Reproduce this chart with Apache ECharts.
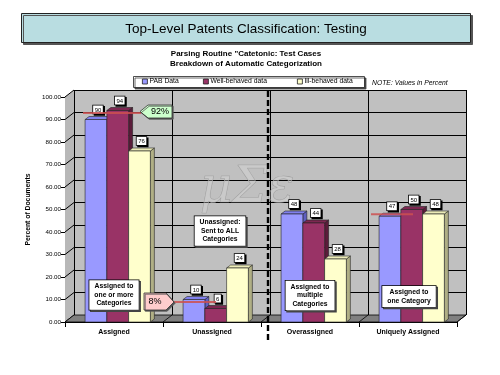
<!DOCTYPE html>
<html><head><meta charset="utf-8">
<script src="https://cdn.jsdelivr.net/npm/echarts@6/dist/echarts.min.js"></script>
<style>html,body{margin:0;padding:0;background:#fff}#c{width:500px;height:375px}</style>
</head><body><div id="c"></div>
<script>
// ---- data ----
const categories = ['Assigned', 'Unassigned', 'Overassigned', 'Uniquely Assigned'];
const seriesNames = ['PAB Data', 'Well-behaved data', 'Ill-behaved data'];
const pabData  = [90, 10, 48, 47];
const wellData = [94, 6, 44, 50];
const illData  = [76, 24, 28, 48];
const yMin = 0, yMax = 100, yInterval = 10;
const yTickValues = [0, 10, 20, 30, 40, 50, 60, 70, 80, 90, 100];
const refLines = [ {cat: 0, value: 92, label: '92%'}, {cat: 1, value: 8, label: '8%'}, {cat: 3, value: 47} ];

// ---- style ----
const FONT = '"Liberation Sans", Arial, Helvetica, sans-serif';
const DX = 4, DY = 3;          // bar depth
const WX = 9, WY = 7;          // wall depth
const frontC = ['#9999ff', '#993366', '#ffffcc'];
const topC   = ['#8080ee', '#7d2751', '#ecebb8'];
const sideC  = ['#5f5fc0', '#5a1c3a', '#b0af85'];

const chart = echarts.init(document.getElementById('c'), null, {renderer: 'canvas'});

function renderBar(params, api) {
  const s = params.seriesIndex;
  const ci = api.value(0), v = api.value(1);
  const base = api.coord([ci, 0]), top = api.coord([ci, v]);
  const cw = api.size([1, 0])[0];
  const bw = cw * 0.222;
  const x0 = base[0] - cw / 2 + cw * 0.205 + s * bw;
  const yT = top[1], yB = base[1];
  const ln = {stroke: '#222', lineWidth: 0.6};
  return {type: 'group', children: [
    {type: 'polygon', shape: {points: [[x0 + bw, yT], [x0 + bw + DX, yT - DY], [x0 + bw + DX, yB - DY], [x0 + bw, yB]]},
     style: Object.assign({fill: sideC[s]}, ln)},
    {type: 'polygon', shape: {points: [[x0, yT], [x0 + DX, yT - DY], [x0 + bw + DX, yT - DY], [x0 + bw, yT]]},
     style: Object.assign({fill: topC[s]}, ln)},
    {type: 'rect', shape: {x: x0, y: yT, width: bw, height: yB - yT},
     style: Object.assign({fill: frontC[s]}, ln)},
    {type: 'text', z2: 100, x: x0 + bw / 2 + 2, y: yT - DY - 3,
     style: {text: String(v), align: 'center', verticalAlign: 'bottom', font: '6px ' + FONT, fill: '#000',
       backgroundColor: '#fff', borderColor: '#000', borderWidth: 0.8, padding: [1.5, 1.5, 0.5, 1.5],
       shadowColor: '#000', shadowOffsetX: 1.4, shadowOffsetY: 1.4, shadowBlur: 0}}
  ]};
}

const allData = [pabData, wellData, illData];
const series = allData.map((arr, s) => ({
  type: 'custom', name: seriesNames[s], xAxisIndex: 1, yAxisIndex: 1,
  itemStyle: {color: frontC[s], borderColor: '#222', borderWidth: 0.8},
  renderItem: renderBar,
  data: arr.map((v, i) => [i, v]),
  z: 2
}));

const legendPos = [142, 203, 297];
const option = {
  backgroundColor: '#fff',
  animation: false,
  legend: seriesNames.map((n, i) => ({
    data: [n], left: legendPos[i], top: 78, padding: 0, icon: 'rect', itemWidth: 5, itemHeight: 5,
    itemGap: 0, selectedMode: false,
    itemStyle: {borderColor: '#222', borderWidth: 0.8},
    textStyle: {fontFamily: FONT, fontSize: 6.8, color: '#000', padding: [0, 0, 0, -3]}
  })),
  grid: [
    {left: 74, right: 34, top: 90, bottom: 60, show: true, backgroundColor: '#c0c0c0', borderWidth: 0},
    {left: 65, right: 43, top: 97, bottom: 53}
  ],
  xAxis: [
    {type: 'category', gridIndex: 0, data: categories, axisLine: {show: false}, axisTick: {show: false},
     axisLabel: {show: false}, splitLine: {show: true, interval: 0, lineStyle: {color: '#000', width: 1}}},
    {type: 'category', gridIndex: 1, data: categories,
     axisLine: {show: true, lineStyle: {color: '#000', width: 1}},
     axisTick: {show: true, length: 5, interval: 0, lineStyle: {color: '#000'}},
     axisLabel: {interval: 0, margin: 7, fontFamily: FONT, fontSize: 7, fontWeight: 'bold', color: '#000'},
     splitLine: {show: false}}
  ],
  yAxis: [
    {type: 'value', gridIndex: 0, min: yMin, max: yMax, interval: yInterval, axisLine: {show: false},
     axisTick: {show: false}, axisLabel: {show: false},
     splitLine: {show: true, lineStyle: {color: '#000', width: 1}}},
    {type: 'value', gridIndex: 1, min: yMin, max: yMax, interval: yInterval,
     axisLine: {show: true, lineStyle: {color: '#000', width: 1}},
     axisTick: {show: true, length: 4, lineStyle: {color: '#000'}},
     axisLabel: {margin: 4, fontFamily: FONT, fontSize: 6.2, color: '#000', formatter: v => v.toFixed(2)},
     splitLine: {show: false},
     name: 'Percent of Documents', nameLocation: 'middle', nameGap: 30,
     nameTextStyle: {fontFamily: FONT, fontSize: 6.8, fontWeight: 'bold', color: '#000'}}
  ],
  series: series
};
chart.setOption(option);

// ---- decorations computed from the axes ----
function px(ci, v) { return chart.convertToPixel({xAxisIndex: 1, yAxisIndex: 1}, [ci, v]); }
const cw = px(1, 0)[0] - px(0, 0)[0];
const xL = px(0, 0)[0] - cw / 2, xR = px(3, 0)[0] + cw / 2;
const y0 = px(0, yMin)[1], yTop = px(0, yMax)[1];
const g = [];
// title
g.push({type: 'rect', z: 1, shape: {x: 21.5, y: 13.5, width: 449, height: 29},
  style: {fill: '#b9dde1', stroke: '#222', lineWidth: 1, shadowColor: '#555', shadowOffsetX: 2, shadowOffsetY: 2}});
g.push({type: 'text', z: 2, x: 246, y: 29, style: {text: 'Top-Level Patents Classification: Testing',
  font: '13.5px ' + FONT, fill: '#000', align: 'center', verticalAlign: 'middle'}});
g.push({type: 'text', z: 2, x: 246, y: 59, style: {text: 'Parsing Routine "Catetonic: Test Cases\nBreakdown of Automatic Categorization',
  font: 'bold 8px ' + FONT, fill: '#000', align: 'center', verticalAlign: 'middle', lineHeight: 10.5}});
// legend box + note
g.push({type: 'rect', z: -1, shape: {x: 133.5, y: 76.5, width: 231, height: 11},
  style: {fill: '#fff', stroke: '#222', lineWidth: 0.8, shadowColor: '#444', shadowOffsetX: 1.5, shadowOffsetY: 1.5}});
g.push({type: 'text', z: 2, x: 372, y: 83, style: {text: 'NOTE: Values in Percent',
  font: 'italic 6.8px ' + FONT, fill: '#000', align: 'left', verticalAlign: 'middle'}});
// side wall
g.push({type: 'polygon', z: 1, shape: {points: [[xL, yTop], [xL + WX, yTop - WY], [xL + WX, y0 - WY], [xL, y0]]},
  style: {fill: '#b8b8b8'}});
yTickValues.forEach(v => {
  const y = px(0, v)[1];
  g.push({type: 'line', z: 1, shape: {x1: xL, y1: y, x2: xL + WX, y2: y - WY}, style: {stroke: '#000', lineWidth: 1}});
});
// floor
g.push({type: 'polygon', z: 1, shape: {points: [[xL, y0], [xR, y0], [xR + WX, y0 - WY], [xL + WX, y0 - WY]]},
  style: {fill: '#808080', stroke: '#000', lineWidth: 0.8}});
for (let k = 1; k <= categories.length; k++) {
  const x = xL + k * cw;
  g.push({type: 'line', z: 1, shape: {x1: x, y1: y0, x2: x + WX, y2: y0 - WY}, style: {stroke: '#000', lineWidth: 0.8}});
}
// dashed separator
const xs = xL + 2 * cw + 7;
g.push({type: 'line', z: 5, shape: {x1: xs, y1: yTop - 6, x2: xs, y2: y0 + 19},
  style: {stroke: '#000', lineWidth: 2.4, lineDash: [6, 3]}});
// watermark
g.push({type: 'text', z: 1.5, x: 247, y: 189, style: {text: 'μΣε', font: 'italic 50px "DejaVu Serif", serif',
  fill: 'rgba(220,220,220,0.35)', stroke: '#999', lineWidth: 0.6, align: 'center', verticalAlign: 'middle'}});
// reference lines + callouts
const rl0 = px(refLines[0].cat, refLines[0].value)[1] - 2;
g.push({type: 'line', z: 20, shape: {x1: 83, y1: rl0, x2: 141, y2: rl0}, style: {stroke: 'rgba(205,80,80,0.85)', lineWidth: 2}});
g.push({type: 'polygon', z: 21, shape: {points: [[140, rl0 - 1.5], [148, 105], [172, 105], [172, 118], [148, 118]]},
  style: {fill: '#ccffcc', stroke: '#333', lineWidth: 0.8, shadowColor: '#555', shadowOffsetX: 1.2, shadowOffsetY: 1.2}});
g.push({type: 'text', z: 22, x: 160, y: 111.5, style: {text: refLines[0].label, font: '9px ' + FONT, fill: '#000', align: 'center', verticalAlign: 'middle'}});

const rl1 = px(refLines[1].cat, refLines[1].value)[1] - 2;
g.push({type: 'line', z: 20, shape: {x1: 173, y1: rl1, x2: 216, y2: rl1}, style: {stroke: 'rgba(205,80,80,0.85)', lineWidth: 2}});
g.push({type: 'polygon', z: 21, shape: {points: [[144, 293], [166, 293], [174, rl1], [166, 310], [144, 310]]},
  style: {fill: '#ffcccc', stroke: '#333', lineWidth: 0.8, shadowColor: '#555', shadowOffsetX: 1.2, shadowOffsetY: 1.2}});
g.push({type: 'text', z: 22, x: 155, y: 301.5, style: {text: refLines[1].label, font: '9px ' + FONT, fill: '#000', align: 'center', verticalAlign: 'middle'}});

const rl2 = px(refLines[2].cat, refLines[2].value)[1] - 2;
g.push({type: 'line', z: 20, shape: {x1: 371, y1: rl2, x2: 413, y2: rl2}, style: {stroke: 'rgba(205,80,80,0.85)', lineWidth: 2}});

// text boxes
function box(cx, cy, text) {
  g.push({type: 'text', z: 22, x: cx, y: cy, style: {text: text, font: 'bold 6.8px ' + FONT, fill: '#000',
    align: 'center', verticalAlign: 'middle', lineHeight: 8.5, backgroundColor: '#fff', borderColor: '#000',
    borderWidth: 0.8, padding: [2, 5, 2, 5], shadowColor: '#444', shadowOffsetX: 1.5, shadowOffsetY: 1.5}});
}
box(114, 295, 'Assigned to\none or more\nCategories');
box(220, 231, 'Unassigned:\nSent to ALL\nCategories');
box(310, 295.5, 'Assigned to\nmultiple\nCategories');
box(409, 296.5, 'Assigned to\none Category');

chart.setOption({graphic: g});
</script>
</body></html>
